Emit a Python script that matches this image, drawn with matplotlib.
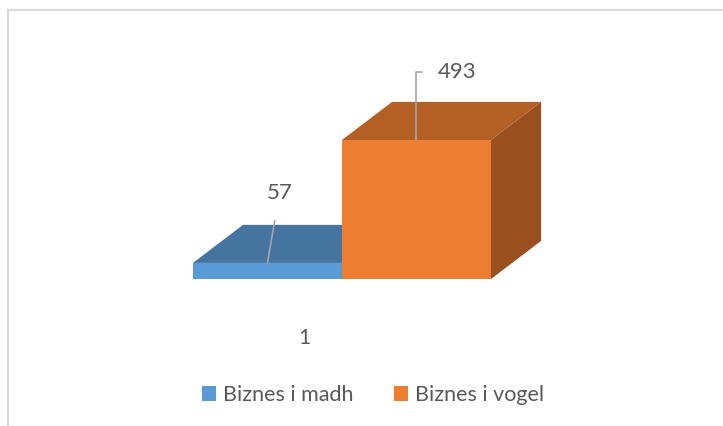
import matplotlib

matplotlib.use("Agg")
import matplotlib.pyplot as plt
from matplotlib.patches import Polygon, Rectangle
from matplotlib.lines import Line2D

plt.rcParams["font.family"] = ["Lato", "DejaVu Sans"]

series = ["Biznes i madh", "Biznes i vogel"]
values = [57, 493]
category = "1"

front_colors = ["#5B9BD5", "#ED7D31"]
top_colors = ["#4674A0", "#B45F24"]
side_colors = ["#3F6A94", "#9A4F1E"]
text_color = "#595959"

# 3D depth offset (data units) and axis mapping
depth_x = 0.336
depth_y = 135.0

fig = plt.figure(figsize=(7.23, 4.26), dpi=100)
ax = fig.add_axes([0, 0, 1, 1])
ax.set_xlim(-1.295, 3.557)
ax.set_ylim(-521.4, 989.5)
ax.axis("off")

for i, (v, name) in enumerate(zip(values, series)):
    x0, x1 = i, i + 1
    z = 2 + i * 3
    ax.bar(x0, v, width=1, align="edge", color=front_colors[i], zorder=z + 2, linewidth=0)
    top = Polygon([(x0, v), (x1, v), (x1 + depth_x, v + depth_y), (x0 + depth_x, v + depth_y)],
                  closed=True, facecolor=top_colors[i], edgecolor="none", zorder=z + 1)
    side = Polygon([(x1, 0), (x1, v), (x1 + depth_x, v + depth_y), (x1 + depth_x, depth_y)],
                   closed=True, facecolor=side_colors[i], edgecolor="none", zorder=z)
    ax.add_patch(top)
    ax.add_patch(side)

# data labels with leader lines
ax.annotate(str(values[0]), xy=(0.5, values[0]), xytext=(12, 70), textcoords="offset pixels",
            ha="center", va="center", fontsize=16, color=text_color, zorder=20,
            arrowprops=dict(arrowstyle="-", color="#A6A6A6", lw=1.2, shrinkA=11, shrinkB=0))
ax.annotate(str(values[1]), xy=(1.5, values[1]), xytext=(21, 68), textcoords="offset pixels",
            ha="left", va="center", fontsize=16, color=text_color, zorder=20,
            arrowprops=dict(arrowstyle="-", color="#A6A6A6", lw=1.2, shrinkA=9, shrinkB=0,
                            relpos=(0, 0.5),
                            connectionstyle="angle,angleA=0,angleB=90,rad=0"))

ax.text(0.745, -211, category, ha="center", va="center", fontsize=15, color=text_color)

# chart area border (top and left only visible)
fig.add_artist(Line2D([7.5 / 723, 1], [1 - 9.5 / 426] * 2, transform=fig.transFigure,
                      color="#D9D9D9", lw=1.5))
fig.add_artist(Line2D([7.5 / 723] * 2, [0, 1 - 9.5 / 426], transform=fig.transFigure,
                      color="#D9D9D9", lw=1.5))

handles = [Rectangle((0, 0), 1, 1, facecolor=c, edgecolor="none") for c in front_colors]
fig.legend(handles, series, loc="center", bbox_to_anchor=(373 / 723, 1 - 395 / 426), ncol=2,
           frameon=False, fontsize=15.5, labelcolor=text_color, handlelength=0.65,
           handleheight=0.65, handletextpad=0.3, columnspacing=1.9)

fig.savefig("out.png", dpi=100)
